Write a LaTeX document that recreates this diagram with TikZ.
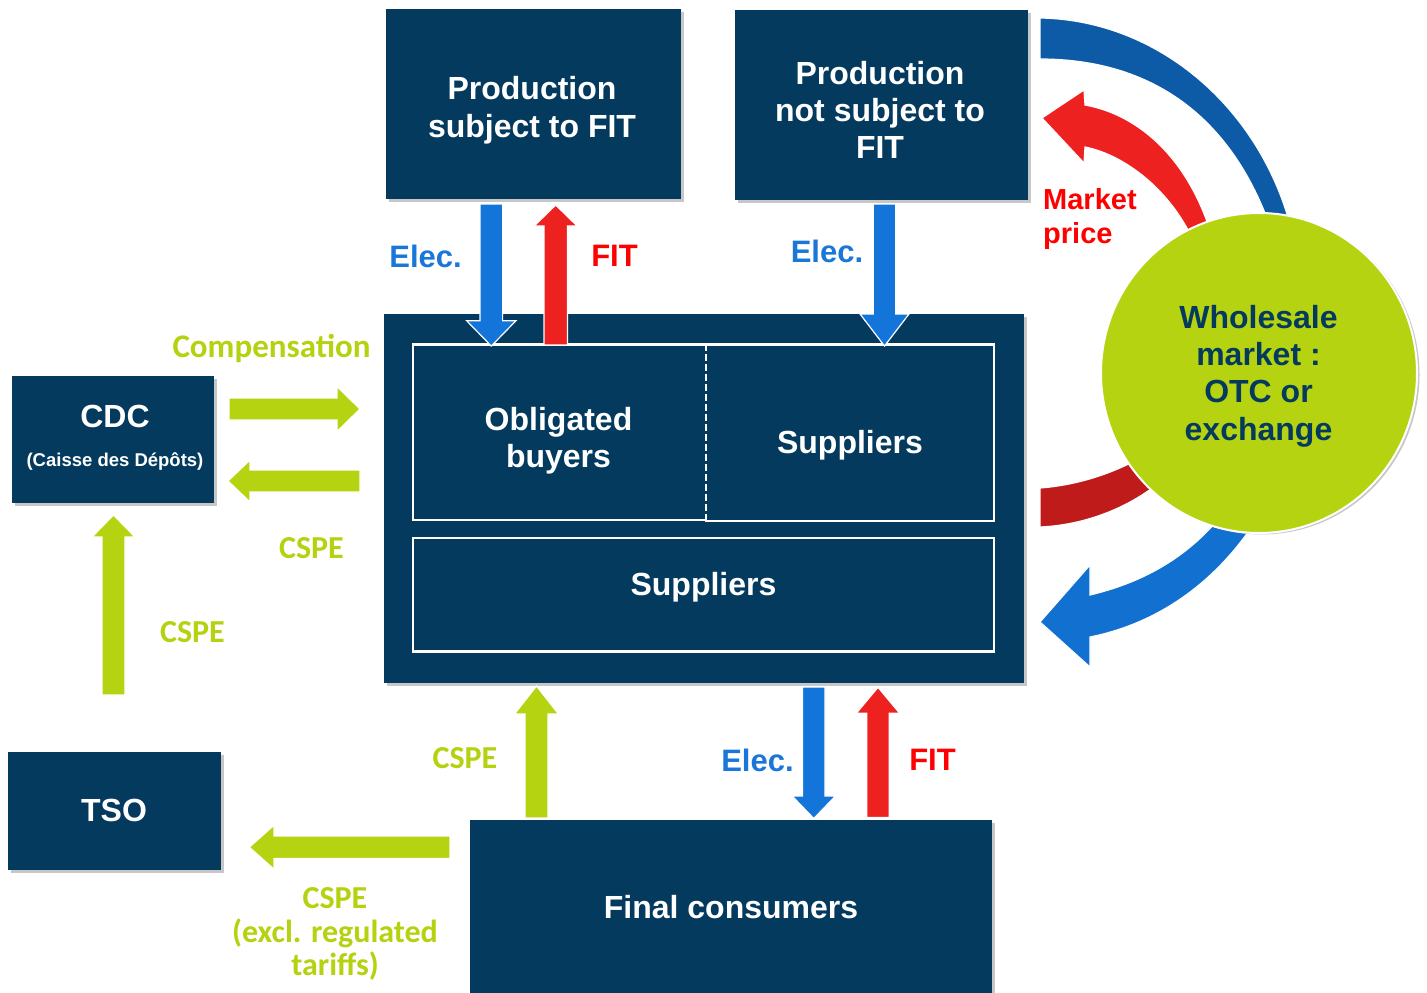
\documentclass[tikz,border=0pt]{standalone}
\usepackage{fontspec}
\setmainfont{Liberation Sans}
\newfontfamily\calib{Carlito}
\usetikzlibrary{shapes.geometric,shadows,fit}
\definecolor{navy}{HTML}{043A5E}
\definecolor{arrblue}{HTML}{1375D9}
\definecolor{arrred}{HTML}{EE2121}
\definecolor{lime}{HTML}{B6D311}
\definecolor{arcblue}{HTML}{0D5AA7}
\definecolor{lowblue}{HTML}{1170D0}
\definecolor{darkred}{HTML}{C01B1B}
\definecolor{elecblue}{HTML}{1A77D8}
\definecolor{txtred}{HTML}{FF0000}
\definecolor{limetxt}{HTML}{B5D10F}
\newcommand\varr[7]{\path[#7] ({#1-#4},#2) -- ({#1-#4},#6) -- ({#1-#5},#6) -- (#1,#3) -- ({#1+#5},#6) -- ({#1+#4},#6) -- ({#1+#4},#2) -- cycle;}
\newcommand\harr[7]{\path[#7] (#2,{#1-#4}) -- (#6,{#1-#4}) -- (#6,{#1-#5}) -- (#3,#1) -- (#6,{#1+#5}) -- (#6,{#1+#4}) -- (#2,{#1+#4}) -- cycle;}
\begin{document}
\begin{tikzpicture}[x=1pt,y=-1pt,
  box/.style={fill=navy,inner sep=0pt,draw=none,drop shadow={shadow xshift=2.5pt,shadow yshift=-2.5pt,fill=black!22,opacity=1}},
  inbox/.style={inner sep=0pt,draw=none},
  frame/.style={draw=white,line width=2.5pt},
  sepline/.style={draw=white,line width=2pt,dash pattern=on 7pt off 3pt},
  wtxt/.style={text=white,inner sep=0pt,font=\bfseries\fontsize{32}{38}\selectfont,align=center},
  bluearr/.style={fill=arrblue,draw=white,line width=1.2pt},
  redarr/.style={fill=arrred,draw=white,line width=1.2pt},
  greenarr/.style={fill=lime,draw=white,line width=1.2pt},
  arcshape/.style={draw=white,line width=1.2pt},
  elec/.style={text=elecblue,inner sep=0pt,anchor=base,font=\bfseries\fontsize{31}{37}\selectfont},
  fitlbl/.style={text=txtred,inner sep=0pt,anchor=base,font=\bfseries\fontsize{31}{37}\selectfont},
  cspe/.style={text=limetxt,inner sep=0pt,font={\calib\bfseries\fontsize{32}{33.5}\selectfont},align=center}
]
\useasboundingbox (0,0) rectangle (1427,993);

% right-hand circular arrows (behind the circle)
\path[arcshape,fill=arcblue] (1040,18) .. controls (1160,20) and (1262,110) .. (1292,232)
  -- (1272,232) .. controls (1232,115) and (1150,59) .. (1040,59) -- cycle;
\path[arcshape,fill=arrred] (1042,118) -- (1084,90) -- (1085,105)
  .. controls (1140,115) and (1190,160) .. (1213,240) -- (1193,240)
  .. controls (1170,190) and (1125,155) .. (1085,147) -- (1084,163) -- cycle;
\path[arcshape,fill=darkred] (1040,488) .. controls (1080,485) and (1115,472) .. (1140,458)
  -- (1165,478) .. controls (1130,508) and (1085,525) .. (1040,527) -- cycle;
\path[arcshape,fill=lowblue] (1040,622) -- (1090,565) -- (1090,595)
  .. controls (1140,583) and (1185,560) .. (1222,515) -- (1255,522)
  .. controls (1210,590) and (1150,625) .. (1090,637) -- (1090,667) -- cycle;

% boxes
\node[box,fit={(386,9)(681,199)}] (pfit) {};
\node[box,fit={(735,10)(1028,200)}] (pnfit) {};
\node[box,fit={(384,314)(1024,683)}] (main) {};
\node[box,fit={(12,376)(214,503)}] (cdc) {};
\node[box,fit={(8,752)(221,870)}] (tso) {};
\node[box,fit={(470,820)(992,996)}] (final) {};

% inner boxes
\node[inbox,fit={(413,344.5)(705.5,520)}] (oblig) {};
\node[inbox,fit={(705.5,344.5)(994,521)}] (sup1) {};
\node[inbox,fit={(413,538)(994,651.5)}] (sup2) {};
\draw[frame] (oblig.north east) -- (oblig.north west) -- (oblig.south west) -- (oblig.south east);
\draw[frame] (sup1.north west) -- (sup1.north east) -- (sup1.south east) -- (sup1.south west);
\draw[frame] (sup2.north west) rectangle (sup2.south east);
\draw[sepline] (oblig.north east) -- (oblig.south east);

% fat arrows
\varr{491.3}{204}{346}{11.3}{24.7}{320.7}{bluearr}
\varr{555.7}{345}{205}{11.7}{21.5}{226}{redarr}
\varr{884.5}{204}{346}{11.3}{24.5}{314}{bluearr}
\varr{813.8}{687}{818.5}{11.2}{21.7}{796}{bluearr}
\varr{878}{817.5}{687.3}{11.3}{21.7}{713.3}{redarr}
\varr{536.5}{818}{686}{11.5}{22}{714}{greenarr}
\varr{113.5}{695}{515}{11.5}{21.5}{537}{greenarr}
\harr{409}{229}{360}{11}{22.5}{337}{greenarr}
\harr{481}{360}{228}{11}{21}{250}{greenarr}
\harr{847.2}{450}{249.3}{11.2}{22}{274}{greenarr}

% wholesale market circle
\node[ellipse,fill=lime,draw=white,line width=2pt,inner sep=0pt,minimum width=316pt,minimum height=320pt,
  drop shadow={shadow xshift=2.5pt,shadow yshift=-1.5pt,fill=black!22,opacity=1}] (wm) at (1259,373) {};
\node[inner sep=0pt,text=navy,align=center,font=\bfseries\fontsize{32}{37.3}\selectfont] (wmt) at (1258.5,376) {Wholesale\\market :\\OTC or\\exchange};

% box texts
\node[wtxt] (tpfit) at (532,110) {Production\\subject to FIT};
\node[wtxt,font=\bfseries\fontsize{32}{37}\selectfont] (tpnfit) at (880,110) {Production\\not subject to\\FIT};
\node[wtxt,font=\bfseries\fontsize{32}{37}\selectfont] (toblig) at (558.5,441) {Obligated\\buyers};
\node[wtxt] (tsup1) at (850,445) {Suppliers};
\node[wtxt] (tsup2) at (703.5,587) {Suppliers};
\node[wtxt,anchor=base] (tcdc) at (115,427) {CDC};
\node[wtxt,anchor=base,font=\bfseries\fontsize{18.5}{22}\selectfont] (tcaisse) at (115,466) {(Caisse des Dépôts)};
\node[wtxt,anchor=base] (ttso) at (114,821) {TSO};
\node[wtxt,anchor=base] (tfinal) at (731,918.5) {Final consumers};

% flow labels
\node[elec] (l1) at (425.6,267) {Elec.};
\node[fitlbl] (l2) at (614.5,266) {FIT};
\node[elec] (l3) at (827,262) {Elec.};
\node[elec] (l4) at (757.5,771) {Elec.};
\node[fitlbl] (l5) at (932.5,770) {FIT};
\node[inner sep=0pt,anchor=west,align=left,text=txtred,font=\bfseries\fontsize{29}{34}\selectfont] (lmp) at (1043,219) {Market\\price};
\node[cspe,anchor=base,font={\calib\bfseries\fontsize{33}{34}\selectfont}] (lcomp) at (271.5,357.5) {Compensation};
\node[cspe,anchor=base] (lc1) at (311.5,558) {CSPE};
\node[cspe,anchor=base] (lc2) at (192.5,642) {CSPE};
\node[cspe,anchor=base] (lc3) at (465,768) {CSPE};
\node[cspe] (lc4) at (335,934) {CSPE\\(excl. regulated\\tariffs)};
\end{tikzpicture}
\end{document}
